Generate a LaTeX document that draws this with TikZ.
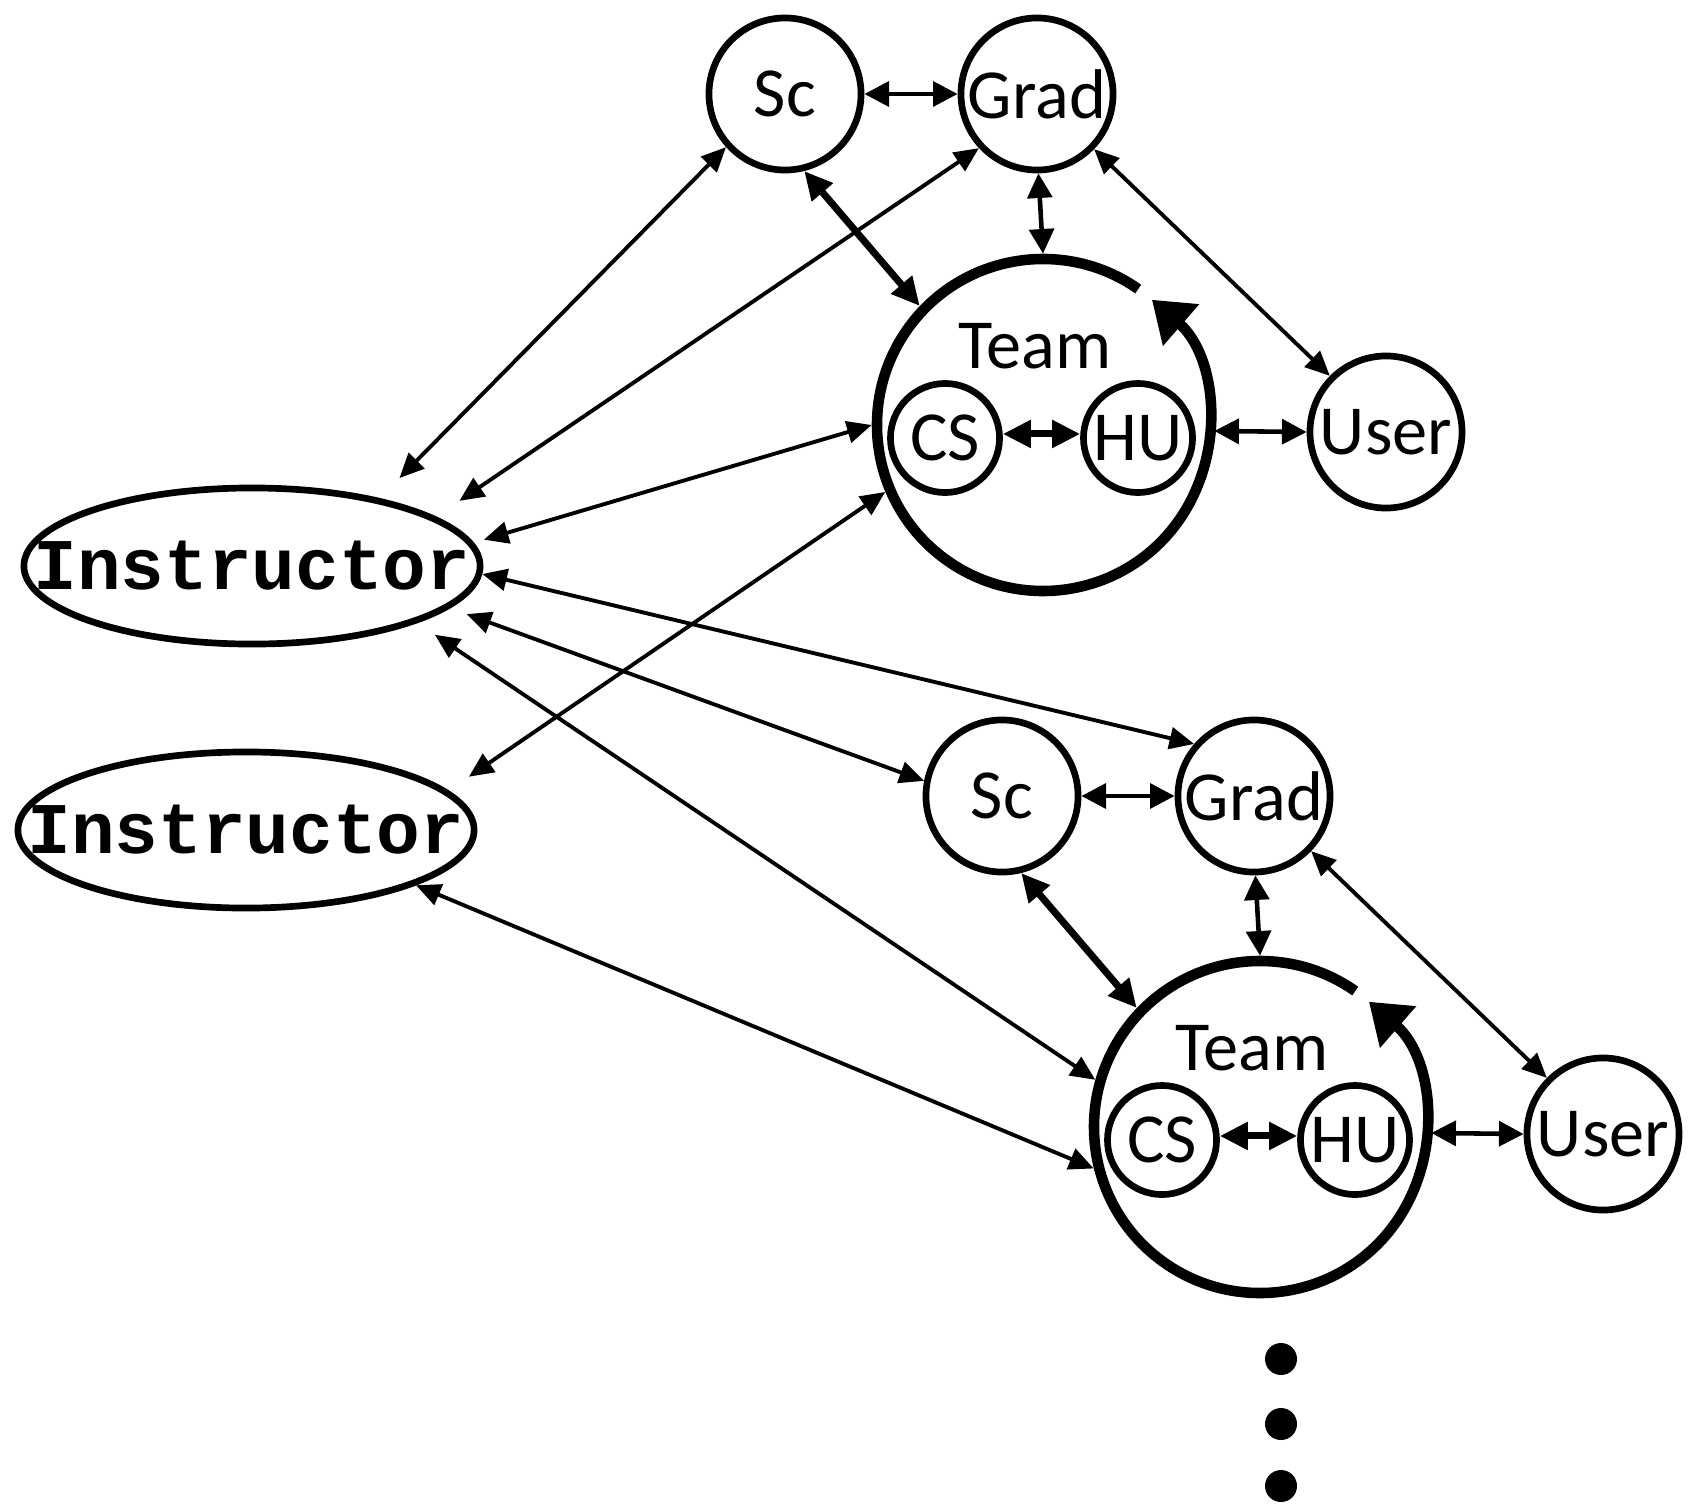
\documentclass[tikz,border=0pt]{standalone}
\usepackage{fontspec}
\setsansfont{Carlito}
\setmonofont{Liberation Mono}
\usetikzlibrary{arrows.meta,shapes.geometric,positioning}

\begin{document}
\begin{tikzpicture}[x=0.01cm, y=0.01cm,
    role/.style={circle, draw, line width=1.9pt, minimum size=1.52cm, inner sep=0pt, font=\sffamily\fontsize{20}{24}\selectfont},
    member/.style={role, minimum size=1.09cm},
    team/.style={circle, line width=3pt, minimum size=3.32cm, inner sep=0pt},
    instr/.style={ellipse, draw, line width=1.9pt, minimum width=4.56cm, minimum height=1.56cm, inner xsep=-1cm, inner ysep=0pt, font=\ttfamily\bfseries\fontsize{20.7}{24}\selectfont},
    lbl/.style={font=\sffamily\fontsize{20}{24}\selectfont},
    thinarr/.style={{Triangle[length=7pt,width=6.2pt]}-{Triangle[length=7pt,width=6.2pt]}, line width=1.1pt},
    medarr/.style={{Triangle[length=7pt,width=7pt]}-{Triangle[length=7pt,width=7pt]}, line width=1.3pt},
    thickarr/.style={{Triangle[length=8pt,width=7.5pt]}-{Triangle[length=8pt,width=7.5pt]}, line width=2pt},
    teamarc/.style={-{Triangle[length=11pt,width=15pt]}, line width=3pt}
]
\useasboundingbox (0,0) rectangle (1694,-1509);

\node[instr] (instr1) at (252,-566) {Instructor};
\node[instr] (instr2) at (246,-830) {Instructor};

% one group per team
\foreach \g/\dx/\dy in {1/0/0, 2/217/-702} {
  \begin{scope}[shift={(\dx,\dy)}]
    \node[role] (sc\g) at (785,-94) {Sc};
    \node[role] (grad\g) at (1037,-94) {Grad};
    \node[team] (team\g) at (1043,-425) {};
    \node[lbl] (tlbl\g) at (1035,-346) {Team};
    \node[member] (cs\g) at (945,-438) {CS};
    \node[member] (hu\g) at (1138,-438) {HU};
    \node[role] (user\g) at (1386,-432) {User};
    \draw[teamarc] (team\g.center) ++(55:166) arc[start angle=55, end angle=409, radius=166];

    \draw[medarr] (sc\g) -- (grad\g);
    \draw[thickarr] (sc\g.284) -- (team\g.136);
    \draw[medarr] (grad\g.271) -- (team\g.90);
    \draw[thinarr] (grad\g.316) -- (user\g.135);
    \draw[thickarr] (cs\g.4) -- (hu\g.176);
    \draw[medarr] (team\g.358) -- (user\g.180);
  \end{scope}
}

\draw[thinarr, shorten <=8pt] (instr1.28) -- (sc1.222);
\draw[thinarr, shorten <=8pt] (instr1.15) -- (grad1.223);
\draw[thinarr, shorten <=3pt] (instr1.6) -- (team1.180);
\draw[thinarr] (instr1.358) -- (grad2.139);
\draw[thinarr, shorten <=5pt] (instr1.348) -- (sc2.169);
\draw[thinarr, shorten <=6pt] (instr1.341) -- (team2.164);
\draw[thinarr, shorten <=7pt] (instr2.11) -- (team1.203);
\draw[thinarr] (instr2.342) -- (team2.194);

% more teams
\foreach \y in {1359,1424,1486}
  \fill (1281,-\y) circle (16);
\end{tikzpicture}
\end{document}
